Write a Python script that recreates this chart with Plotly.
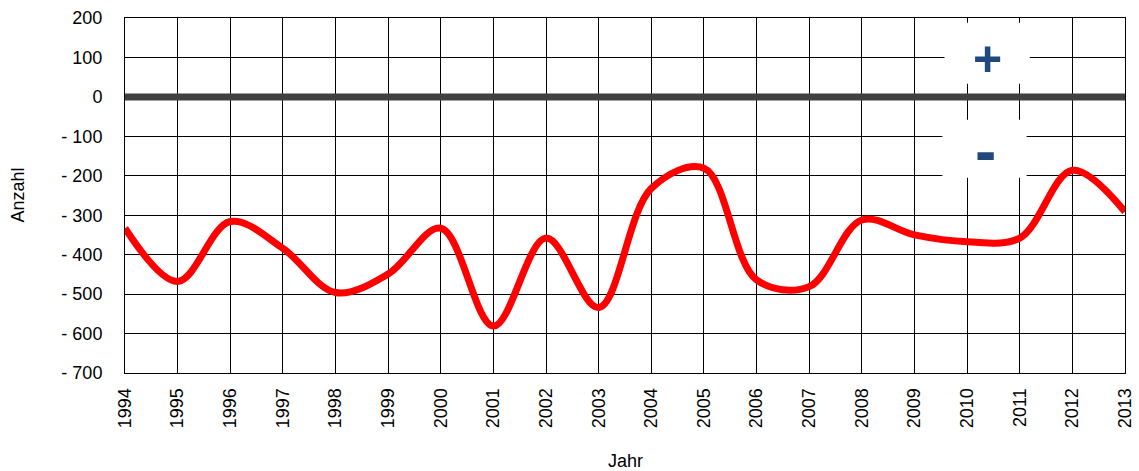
import plotly.graph_objects as go

years = list(range(1994, 2014))
values = [-333, -468, -316, -384, -496, -449, -333, -581, -358, -534,
          -232, -181, -464, -481, -312, -350, -367, -358, -186, -291]

y_ticks = [200, 100, 0, -100, -200, -300, -400, -500, -600, -700]
y_labels = ["200", "100", "0", "- 100", "- 200", "- 300", "- 400", "- 500", "- 600", "- 700"]

font_family = "Liberation Sans, Arial, sans-serif"
sign_color = "#1F497D"

fig = go.Figure()

# zero reference line
fig.add_trace(go.Scatter(
    x=[years[0], years[-1]], y=[0, 0], mode="lines",
    line=dict(color="#404040", width=7), hoverinfo="skip", showlegend=False))

# data line
fig.add_trace(go.Scatter(
    x=years, y=values, mode="lines",
    line=dict(color="#FF0000", width=7, shape="spline", smoothing=1.0),
    showlegend=False))

# white boxes behind the + / - signs
fig.add_shape(type="rect", xref="x", yref="y", x0=2009.57, x1=2011.19, y0=33, y1=188,
              fillcolor="white", line=dict(width=0), layer="between")
fig.add_shape(type="rect", xref="x", yref="y", x0=2009.53, x1=2011.13, y0=-205, y1=-58,
              fillcolor="white", line=dict(width=0), layer="between")

fig.add_annotation(x=2010.38, y=95, xref="x", yref="y", text="<b>+</b>", showarrow=False,
                   font=dict(family=font_family, size=50, color=sign_color))
fig.add_annotation(x=2010.34, y=-136, xref="x", yref="y", text="<b>-</b>", showarrow=False,
                   font=dict(family=font_family, size=64, color=sign_color))

# axis titles
fig.add_annotation(x=-0.108, y=0.5, xref="paper", yref="paper", text="Anzahl",
                   textangle=-90, showarrow=False, xanchor="center", yanchor="middle",
                   font=dict(family=font_family, size=18, color="#000000"))
fig.add_annotation(x=0.5, y=-0.248, xref="paper", yref="paper", text="Jahr",
                   showarrow=False, xanchor="center", yanchor="middle",
                   font=dict(family=font_family, size=18, color="#000000"))

fig.update_layout(
    width=1139, height=471,
    margin=dict(l=125, r=14, t=18, b=98),
    paper_bgcolor="white", plot_bgcolor="white",
    font=dict(family=font_family, size=18, color="#000000"),
)

fig.update_xaxes(
    range=[1994, 2013], tickmode="array", tickvals=years, ticktext=[str(y) for y in years],
    tickangle=-90, showgrid=True, gridcolor="#000000", gridwidth=1,
    showline=True, linecolor="#000000", linewidth=1, mirror=True,
    zeroline=False, ticks="", ticklabelstandoff=7, automargin=False,
)
fig.update_yaxes(
    range=[-700, 200], tickmode="array", tickvals=y_ticks, ticktext=y_labels,
    showgrid=True, gridcolor="#000000", gridwidth=1,
    showline=True, linecolor="#000000", linewidth=1, mirror=True,
    zeroline=False, ticks="", ticklabelstandoff=18, automargin=False,
)

fig.write_html(
    "out.html",
    config={"displayModeBar": False},
    post_script="document.body.style.margin='0';document.body.style.overflow='hidden';",
)
